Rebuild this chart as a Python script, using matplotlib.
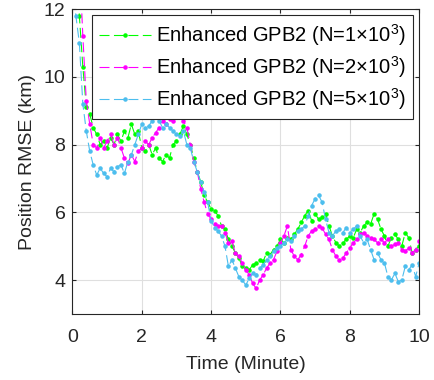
import numpy as np
import matplotlib
matplotlib.use("Agg")
import matplotlib.pyplot as plt

plt.rcParams['font.family'] = ['Liberation Sans', 'DejaVu Sans']
plt.rcParams['mathtext.fontset'] = 'custom'
plt.rcParams['mathtext.rm'] = 'Liberation Sans'

# time axis (minutes), one sample every 0.1 min
t = np.round(np.arange(0, 10.01, 0.1), 1)

rmse_n1000 = [16.0, 14.0, 11.8, 10.3, 9.1, 8.9, 8.5, 8.3, 8.0, 8.1,
              7.9, 8.2, 8.0, 8.3, 8.1, 8.4, 8.2, 8.6, 8.3, 8.4,
              7.9, 7.8, 8.0, 7.7, 7.9, 7.6, 7.5, 7.7, 7.6, 8.0,
              8.1, 8.3, 8.55, 8.3, 8.0, 7.6, 7.2, 6.9, 6.5, 6.3,
              6.1, 6.05, 5.9, 5.6, 5.5, 5.2, 5.0, 4.8, 4.65, 4.4,
              4.35, 4.3, 4.45, 4.5, 4.6, 4.55, 4.8, 4.75, 4.9, 5.0,
              5.2, 5.1, 5.25, 5.2, 5.35, 5.5, 5.7, 5.9, 6.05, 5.75,
              5.95, 5.8, 5.85, 5.95, 5.6, 5.3, 5.1, 5.0, 5.1, 5.2,
              5.3, 5.25, 5.5, 5.4, 5.6, 5.7, 5.65, 5.95, 5.8, 5.5,
              5.3, 5.0, 5.25, 5.35, 5.2, 5.0, 5.4, 5.25, 4.8, 4.9, 5.0]

rmse_n2000 = [17.0, 15.5, 13.5, 11.2, 9.3, 8.6, 8.0, 7.9, 8.2, 7.9,
              8.1, 8.3, 8.0, 8.2, 7.9, 7.6, 7.45, 7.7, 7.5, 7.8,
              7.9, 8.1, 8.0, 8.2, 8.35, 8.5, 8.7, 8.6, 8.75, 8.7,
              8.85, 8.9, 8.7, 8.5, 8.0, 7.5, 7.2, 6.7, 6.3, 5.95,
              5.8, 5.65, 5.6, 5.6, 5.4, 5.1, 5.15, 4.8, 4.7, 4.5,
              4.3, 4.15, 3.9, 3.75, 4.0, 4.15, 4.35, 4.5, 4.6, 4.85,
              5.1, 5.3, 5.6, 4.9, 4.7, 4.6, 4.75, 5.0, 5.3, 5.45,
              5.5, 5.6, 5.55, 5.35, 5.2, 4.9, 4.7, 4.6, 4.65, 4.8,
              4.95, 5.1, 5.2, 5.35, 5.4, 5.3, 5.25, 5.2, 5.1, 5.2,
              5.1, 5.2, 5.0, 5.05, 5.1, 4.9, 4.85, 4.95, 4.8, 4.9, 5.15]

rmse_n5000 = [13.0, 11.8, 11.0, 9.2, 8.4, 7.8, 7.4, 7.1, 7.3, 7.15,
              7.05, 7.3, 7.2, 7.35, 7.4, 7.15, 7.5, 7.7, 8.0, 8.3,
              8.6, 8.5, 8.55, 8.7, 8.8, 8.7, 8.5, 8.6, 8.5, 8.4,
              8.3, 8.25, 8.4, 8.0, 7.9, 7.5, 7.2, 6.9, 6.6, 6.3,
              5.75, 5.55, 5.45, 5.3, 5.0, 4.4, 4.6, 4.35, 4.1, 4.0,
              3.85, 4.05, 4.2, 4.15, 4.35, 4.45, 4.6, 4.7, 4.85, 4.95,
              5.0, 5.1, 5.2, 5.15, 5.3, 5.45, 5.5, 5.6, 5.9, 6.2,
              6.4, 6.5, 6.3, 5.8, 5.4, 5.3, 5.45, 5.5, 5.4, 5.55,
              5.4, 5.5, 5.6, 5.3, 5.1, 5.2, 4.9, 4.6, 4.8, 4.6,
              4.5, 4.1, 4.0, 4.2, 3.95, 4.0, 4.4, 4.3, 4.45, 4.1, 4.5]

labels = [r'Enhanced GPB2 (N=1$\times$10$^3$)',
          r'Enhanced GPB2 (N=2$\times$10$^3$)',
          r'Enhanced GPB2 (N=5$\times$10$^3$)']
colors = ['#00ff00', '#ff00ff', '#4dbeee']

fig = plt.figure(figsize=(4.35, 3.8), dpi=100)
ax = fig.add_axes([0.1665, 0.174, 0.797, 0.802])

for y, lab, c in zip([rmse_n1000, rmse_n2000, rmse_n5000], labels, colors):
    ax.plot(t, y, linestyle='--', marker='.', markersize=4.5, linewidth=0.8,
            color=c, label=lab, dashes=(9, 4))

ax.set_xlim(0, 10)
ax.set_ylim(3, 12)
ax.set_xticks([0, 2, 4, 6, 8, 10])
ax.set_yticks([4, 6, 8, 10, 12])
ax.grid(True, color='#dfdfdf', linewidth=0.8)
ax.set_axisbelow(True)
ax.tick_params(direction='in', top=True, right=True, labelsize=14,
               length=3, color='#262626', labelcolor='#262626')
ax.tick_params(axis='x', pad=11)
ax.tick_params(axis='y', pad=5)
for s in ax.spines.values():
    s.set_color('#262626')
    s.set_linewidth(0.8)

ax.set_xlabel('Time (Minute)', fontsize=14, color='#262626', labelpad=7)
ax.set_ylabel('Position RMSE (km)', fontsize=14, color='#262626', labelpad=5.5)

leg = ax.legend(loc='upper right', fontsize=14.5, handlelength=2.6,
                numpoints=1, fancybox=False, framealpha=1,
                edgecolor='#262626', borderpad=0.35, labelspacing=0.3,
                handletextpad=0.25, borderaxespad=0.3)
leg.get_frame().set_linewidth(0.8)

fig.savefig('out.png', dpi=100)
